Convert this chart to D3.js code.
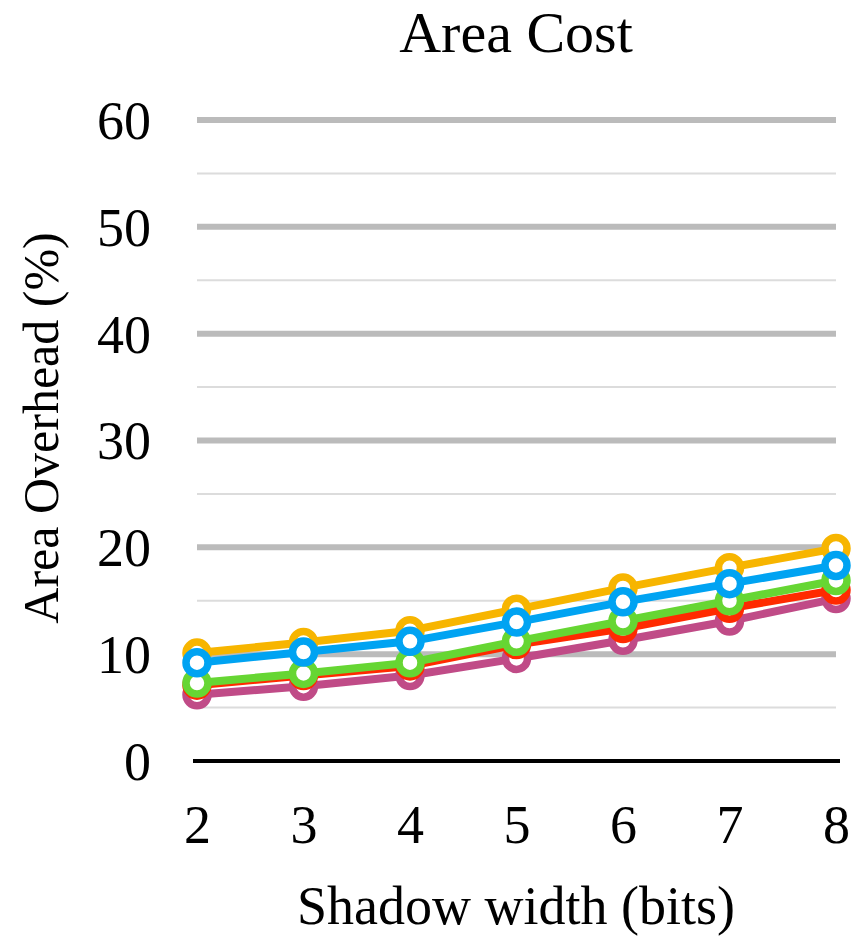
<!DOCTYPE html>
<html>
<head>
<meta charset="utf-8">
<script src="https://cdn.jsdelivr.net/npm/d3@7"></script>
<style>
  html, body { margin: 0; padding: 0; background: #fff; }
  svg { display: block; }
  text { font-family: "Liberation Serif", "Times New Roman", serif; fill: #000; }
</style>
</head>
<body>
<svg id="chart" width="851" height="936"></svg>
<script>
// Shadow widths (bits) on the x axis
const widths = [2, 3, 4, 5, 6, 7, 8];
const yTicks = [0, 10, 20, 30, 40, 50, 60];
const yMinorTicks = [5, 15, 25, 35, 45, 55];

// Area overhead (%) per configuration
const purpleSeries = [6.2, 7.0, 8.0, 9.6, 11.3, 13.1, 15.2];
const redSeries    = [7.1, 8.0, 8.9, 10.9, 12.4, 14.3, 16.0];
const greenSeries  = [7.3, 8.2, 9.2, 11.2, 13.1, 15.0, 16.9];
const yellowSeries = [10.1, 11.1, 12.2, 14.2, 16.2, 18.1, 19.9];
const blueSeries   = [9.2, 10.2, 11.2, 13.0, 14.9, 16.6, 18.3];

const series = [
  { values: purpleSeries, color: "#C04B87" },
  { values: redSeries,    color: "#FF2A00" },
  { values: greenSeries,  color: "#66D633" },
  { values: yellowSeries, color: "#F7B500" },
  { values: blueSeries,   color: "#00A3F2" }
];

const svg = d3.select("#chart");
const x = d3.scaleLinear().domain([2, 8]).range([197, 836]);
const y = d3.scaleLinear().domain([0, 60]).range([761, 120]);

// Minor gridlines
svg.append("g").selectAll("line").data(yMinorTicks).join("line")
  .attr("x1", x(2)).attr("x2", x(8))
  .attr("y1", d => y(d)).attr("y2", d => y(d))
  .attr("stroke", "#DCDCDC").attr("stroke-width", 2);

// Major gridlines
svg.append("g").selectAll("line").data(yTicks.filter(d => d > 0)).join("line")
  .attr("x1", x(2)).attr("x2", x(8))
  .attr("y1", d => y(d)).attr("y2", d => y(d))
  .attr("stroke", "#BBBBBB").attr("stroke-width", 6);

// Zero baseline
svg.append("line")
  .attr("x1", x(2) - 4).attr("x2", x(8) + 4)
  .attr("y1", y(0)).attr("y2", y(0))
  .attr("stroke", "#000").attr("stroke-width", 4);

// Y axis tick labels
const yAxis = d3.axisLeft(y).tickValues(yTicks).tickSize(0).tickPadding(0).tickFormat(d3.format("d"));
const yg = svg.append("g").attr("transform", "translate(151,0)").call(yAxis);
yg.select(".domain").remove();
yg.selectAll("text").attr("font-size", 54).attr("font-family", "Liberation Serif").attr("dy", "0.34em");

// X axis tick labels
const xAxis = d3.axisBottom(x).tickValues(widths).tickSize(0).tickPadding(0).tickFormat(d3.format("d"));
const xg = svg.append("g").attr("transform", "translate(0,843)").call(xAxis);
xg.select(".domain").remove();
xg.selectAll("text").attr("font-size", 54).attr("font-family", "Liberation Serif").attr("dy", 0);

// Series lines and markers
const line = d3.line().x((d, i) => x(widths[i])).y(d => y(d));
series.forEach(s => {
  const g = svg.append("g");
  g.append("path").datum(s.values)
    .attr("d", line).attr("fill", "none")
    .attr("stroke", s.color).attr("stroke-width", 8)
    .attr("stroke-linejoin", "round");
  g.selectAll("circle").data(s.values).join("circle")
    .attr("cx", (d, i) => x(widths[i])).attr("cy", d => y(d))
    .attr("r", 11).attr("fill", "#fff")
    .attr("stroke", s.color).attr("stroke-width", 7.5);
});

// Title and axis titles
svg.append("text").attr("x", 516).attr("y", 52).attr("text-anchor", "middle")
  .attr("font-size", 58).text("Area Cost");
svg.append("text").attr("x", 516).attr("y", 924).attr("text-anchor", "middle")
  .attr("font-size", 54).text("Shadow width (bits)");
svg.append("text").attr("transform", "translate(58,428) rotate(-90)").attr("text-anchor", "middle")
  .attr("font-size", 50).text("Area Overhead (%)");
</script>
</body>
</html>
